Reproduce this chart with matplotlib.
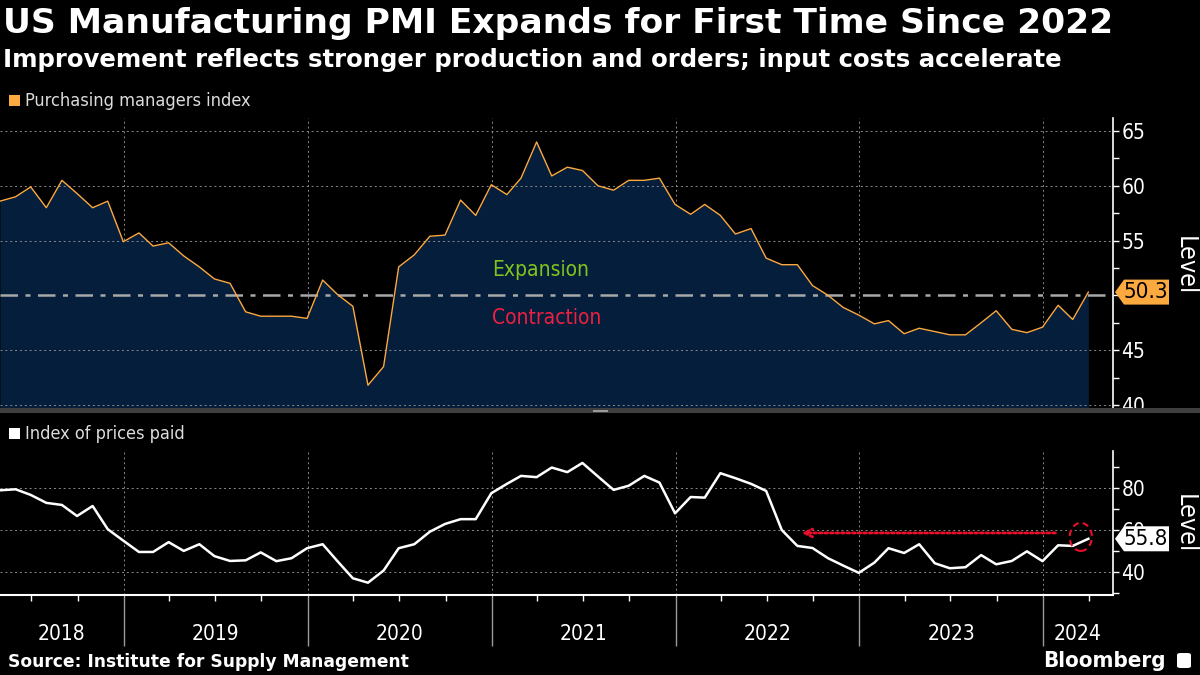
import matplotlib
matplotlib.use("Agg")
import matplotlib.pyplot as plt
import matplotlib.dates as mdates
from matplotlib.patches import Ellipse, Polygon, Rectangle, FancyBboxPatch
from matplotlib.transforms import IdentityTransform
import pandas as pd

# Monthly data, Apr 2018 - Mar 2024 (plotted at month end)
months = pd.date_range("2018-04-30", periods=72, freq="ME")
pmi = [58.6, 59.0, 59.9, 58.0, 60.5, 59.3, 58.0, 58.6, 54.9,
       55.7, 54.5, 54.8, 53.6, 52.6, 51.5, 51.1, 48.5, 48.1, 48.1, 48.1, 47.9,
       51.4, 50.1, 49.0, 41.8, 43.5, 52.6, 53.7, 55.4, 55.5, 58.7, 57.3, 60.1,
       59.2, 60.7, 64.0, 60.9, 61.7, 61.4, 60.0, 59.6, 60.5, 60.5, 60.7, 58.3,
       57.4, 58.3, 57.3, 55.6, 56.1, 53.4, 52.8, 52.8, 50.9, 50.0, 48.9, 48.2,
       47.4, 47.7, 46.5, 47.0, 46.7, 46.4, 46.4, 47.5, 48.6, 46.9, 46.6, 47.1,
       49.1, 47.8, 50.3]
prices = [79.0, 79.5, 76.8, 73.0, 72.0, 66.7, 71.5, 60.4, 54.9,
          49.5, 49.5, 54.2, 50.0, 53.2, 47.5, 45.2, 45.5, 49.3, 45.1, 46.5, 51.3,
          53.2, 45.2, 36.9, 34.8, 40.6, 51.3, 53.2, 59.2, 62.9, 65.2, 65.2, 77.6,
          82.1, 85.9, 85.3, 89.9, 87.7, 92.1, 85.6, 79.2, 81.2, 85.9, 82.7, 68.0,
          75.8, 75.5, 87.2, 84.8, 82.1, 78.7, 60.0, 52.4, 51.4, 46.5, 43.0, 39.5,
          44.4, 51.3, 49.0, 53.2, 44.1, 41.7, 42.2, 48.0, 43.6, 45.2, 49.8, 45.1,
          52.7, 52.4, 55.8]
years = [2018, 2019, 2020, 2021, 2022, 2023, 2024]
pmi_ticks = [40, 45, 55, 60, 65]
price_ticks = [40, 60, 80]

ORANGE = "#fca940"
NAVY = "#051e3b"
GRID = "#8a8a8a"
COND = dict(family="DejaVu Sans", fontstretch="condensed")

x_start = pd.Timestamp("2018-04-30")
x_end = pd.Timestamp("2024-05-19")

fig = plt.figure(figsize=(12, 6.75), dpi=100, facecolor="black")
ax1 = fig.add_axes([0, 0.3926, 0.9275, 0.4326])
ax2 = fig.add_axes([0, 0.1185, 0.9275, 0.2133])

for ax in (ax1, ax2):
    ax.set_facecolor("black")
    ax.set_xlim(x_start, x_end)
    for s in ("left", "top", "bottom"):
        ax.spines[s].set_visible(False)
    ax.spines["right"].set_color("white")
    ax.spines["right"].set_linewidth(1.2)
    ax.yaxis.tick_right()
    ax.tick_params(axis="y", colors="white", labelsize=15, length=4, width=1, pad=2)
    ax.tick_params(axis="y", which="minor", colors="white", length=4, width=1)
    for yr in years[1:]:
        ax.axvline(pd.Timestamp(f"{yr}-01-01"), color=GRID, lw=0.7, ls=(0, (2, 3)), zorder=1)

# --- top panel: PMI
ax1.set_ylim(39.54, 66.19)
ax1.fill_between(months, pmi, 30, color=NAVY, zorder=2, lw=0)
for v in pmi_ticks:
    ax1.axhline(v, color=GRID, lw=0.7, ls=(0, (2, 3)), zorder=3)
ax1.axhline(50, color="#a8a8a8", lw=1.8, ls=(0, (7, 3, 2, 3)), zorder=3)
ax1.plot(months, pmi, color=ORANGE, lw=1.0, zorder=4)
ax1.set_yticks(pmi_ticks)
ax1.set_yticks([42.5, 47.5, 50, 52.5, 57.5, 62.5], minor=True)
ax1.set_yticklabels([str(v) for v in pmi_ticks], fontsize=15, color="white", **COND)
ax1.set_xticks([])
ax1.text(pd.Timestamp("2021-01-01"), 52.3, "Expansion", color="#80c41c", fontsize=15,
         va="center", ha="left", zorder=5, **COND)
ax1.text(pd.Timestamp("2021-01-01"), 47.9, "Contraction", color="#ec2040", fontsize=15,
         va="center", ha="left", zorder=5, **COND)

# --- bottom panel: prices paid
ax2.set_ylim(28.9, 97.8)
for v in price_ticks:
    ax2.axhline(v, color=GRID, lw=0.7, ls=(0, (2, 3)), zorder=1)
ax2.plot(months, prices, color="white", lw=1.8, zorder=4)
ax2.set_yticks(price_ticks)
ax2.set_yticks([30, 50, 70, 90], minor=True)
ax2.set_yticklabels([str(v) for v in price_ticks], fontsize=15, color="white", **COND)
ax2.spines["bottom"].set_visible(True)
ax2.spines["bottom"].set_color("white")
ax2.spines["bottom"].set_linewidth(1.5)
ax2.set_xticks([pd.Timestamp(f"{y}-01-01") for y in years[1:]])
ax2.set_xticklabels([])
ax2.xaxis.set_minor_locator(mdates.MonthLocator(bymonth=[1, 4, 7, 10]))
ax2.tick_params(axis="x", which="major", length=37, width=1, color="#9a9a9a")
ax2.tick_params(axis="x", which="minor", length=4, width=1, color="white")

# year labels, centred on the visible part of each year
for yr in years:
    a = max(pd.Timestamp(f"{yr}-01-01"), x_start)
    b = min(pd.Timestamp(f"{yr + 1}-01-01"), x_end)
    mid = a + (b - a) / 2
    ax2.text(mid, -0.27, str(yr), transform=ax2.get_xaxis_transform(), ha="center",
             va="center", color="white", fontsize=15, **COND)

# red dotted arrow and circle around the last price point
ax2.annotate("", xy=(pd.Timestamp("2022-09-03"), 58.6), xytext=(pd.Timestamp("2024-01-31"), 58.6),
             arrowprops=dict(arrowstyle="->", color="#e8102a", lw=2, ls=(0, (1, 1)),
                             mutation_scale=14), zorder=6)
ax2.add_patch(Ellipse((pd.Timestamp("2024-03-16"), 56.7), width=44, height=13.4, fill=False,
                      ec="#e8102a", lw=1.5, ls=(0, (3, 2)), zorder=6))

fig.canvas.draw()


def value_tag(ax, value, text, face):
    xr = ax.transAxes.transform((1, 0))[0]
    yv = ax.transData.transform((0, value))[1]
    h = 12.5
    pts = [(xr + 2, yv), (xr + 11, yv + h), (xr + 56, yv + h), (xr + 56, yv - h), (xr + 11, yv - h)]
    fig.add_artist(Polygon(pts, closed=True, fc=face, ec="none", transform=IdentityTransform(), zorder=10))
    fig.text((xr + 33) / 1200, yv / 675, text, ha="center", va="center", color="black",
             fontsize=16, zorder=11, **COND)


value_tag(ax1, pmi[-1], f"{pmi[-1]:.1f}", ORANGE)
value_tag(ax2, prices[-1], f"{prices[-1]:.1f}", "white")

# separator bar between the panels
fig.add_artist(Rectangle((0, 1 - 413 / 675), 1, 5 / 675, transform=fig.transFigure,
                         fc="#3f3f3f", ec="none", zorder=8))
fig.add_artist(Rectangle((593 / 1200, 1 - 412 / 675), 15 / 1200, 2.5 / 675, transform=fig.transFigure,
                         fc="#9a9a9a", ec="none", zorder=9))

# titles and legends
fig.text(3 / 1200, 1 - 23 / 675, "US Manufacturing PMI Expands for First Time Since 2022",
         color="white", fontsize=24.8, fontweight="bold", va="center", ha="left", family="DejaVu Sans")
fig.text(3 / 1200, 1 - 60 / 675, "Improvement reflects stronger production and orders; input costs accelerate",
         color="white", fontsize=17.6, fontweight="bold", va="center", ha="left", family="DejaVu Sans")

fig.add_artist(Rectangle((9 / 1200, 1 - 106 / 675), 11 / 1200, 11 / 675, transform=fig.transFigure,
                         fc=ORANGE, ec="none"))
fig.text(25 / 1200, 1 - 101 / 675, "Purchasing managers index", color="#dcdcdc", fontsize=13,
         va="center", ha="left", **COND)
fig.add_artist(Rectangle((9 / 1200, 1 - 439 / 675), 11 / 1200, 11 / 675, transform=fig.transFigure,
                         fc="white", ec="none"))
fig.text(25 / 1200, 1 - 434 / 675, "Index of prices paid", color="#dcdcdc", fontsize=13,
         va="center", ha="left", **COND)

fig.text(1185 / 1200, 1 - 266 / 675, "Level", rotation=270, color="white", fontsize=18,
         ha="center", va="center", **COND)
fig.text(1185 / 1200, 1 - 524 / 675, "Level", rotation=270, color="white", fontsize=18,
         ha="center", va="center", **COND)

fig.text(8 / 1200, 1 - 662 / 675, "Source: Institute for Supply Management", color="white",
         fontsize=12.3, fontweight="bold", va="center", ha="left", family="DejaVu Sans")
fig.text(1166 / 1200, 1 - 661 / 675, "Bloomberg", color="white", fontsize=16, fontweight="bold",
         va="center", ha="right", **COND)
fig.add_artist(FancyBboxPatch((1177 / 1200, 1 - 668 / 675), 14 / 1200, 15 / 675,
                              boxstyle="round,pad=0,rounding_size=0.003", transform=fig.transFigure,
                              fc="white", ec="none"))

fig.savefig("out.png", dpi=100, facecolor="black")
